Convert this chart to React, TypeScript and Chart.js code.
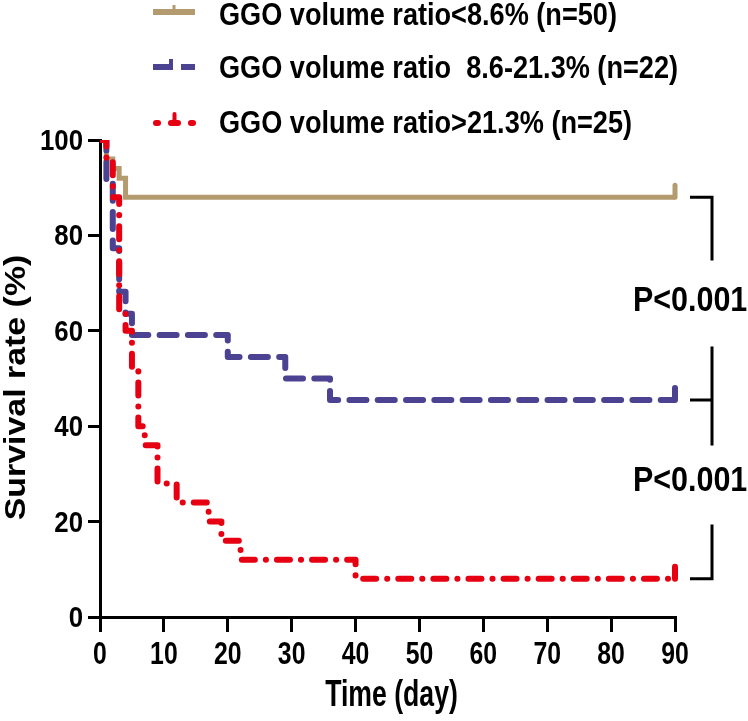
import React, { useEffect, useRef } from "react";
import { Chart, registerables } from "chart.js";

Chart.register(...registerables);

const tanDays = [0, 1, 2, 3, 4, 90];
const tanSurv = [100, 96, 94, 92, 88, 88];
const blueDays = [0, 1, 2, 3, 4, 5, 20, 29, 36, 90];
const blueSurv = [100, 90.9, 77.3, 68.2, 63.6, 59.1, 54.5, 50, 45.5, 45.5];
const redDays = [0, 1, 2, 3, 4, 5, 6, 7, 9, 12, 17, 19, 22, 40, 90];
const redSurv = [100, 96, 88, 64, 60, 52, 40, 36, 28, 24, 20, 16, 12, 8, 8];

const xTicks = [0, 10, 20, 30, 40, 50, 60, 70, 80, 90];
const yTicks = [0, 20, 40, 60, 80, 100];

const legendLabels = [
  "GGO volume ratio<8.6% (n=50)",
  "GGO volume ratio  8.6-21.3% (n=22)",
  "GGO volume ratio>21.3% (n=25)",
];
const pLabels = ["P<0.001", "P<0.001"];
const xTitle = "Time (day)";
const yTitle = "Survival rate (%)";

const TAN = "#b39b6f";
const BLUE = "#4b4291";
const RED = "#e60012";
const FONT = '"Liberation Sans", Arial, sans-serif';

function txt(
  ctx: CanvasRenderingContext2D,
  s: string,
  x: number,
  y: number,
  size: number,
  sx: number,
  align: CanvasTextAlign,
  rot = 0
) {
  ctx.save();
  ctx.font = `bold ${size}px ${FONT}`;
  ctx.fillStyle = "#000";
  ctx.translate(x, y);
  if (rot) ctx.rotate(rot);
  ctx.scale(sx, 1);
  ctx.textAlign = align;
  ctx.textBaseline = "alphabetic";
  ctx.fillText(s, 0, 0);
  ctx.restore();
}

const decorPlugin = {
  id: "decor",
  afterDatasetsDraw(chart: any) {
    const ctx: CanvasRenderingContext2D = chart.ctx;
    chart.data.datasets.forEach((ds: any, i: number) => {
      const meta = chart.getDatasetMeta(i);
      const pts = meta.data;
      const last = pts[pts.length - 1];
      ctx.save();
      ctx.strokeStyle = ds.borderColor;
      ctx.lineWidth = ds.borderWidth;
      ctx.lineCap = "round";
      ctx.beginPath();
      ctx.moveTo(last.x, last.y);
      ctx.lineTo(last.x, last.y - 12);
      ctx.stroke();
      ctx.restore();
    });
  },
  afterDraw(chart: any) {
    const ctx: CanvasRenderingContext2D = chart.ctx;
    const xs = chart.scales.x;
    const ys = chart.scales.y;
    const area = chart.chartArea;

    xTicks.forEach((v) => {
      txt(ctx, String(v), xs.getPixelForValue(v), area.bottom + 47, 31, 0.8, "center");
    });
    yTicks.forEach((v) => {
      txt(ctx, String(v), area.left - 17, ys.getPixelForValue(v) + 10, 30, 0.86, "right");
    });

    txt(ctx, xTitle, (area.left + area.right) / 2 + 4, area.bottom + 89, 36, 0.74, "center");
    txt(ctx, yTitle, 25, (area.top + area.bottom) / 2 + 9, 30, 1.13, "center", -Math.PI / 2);

    const lx0 = 153;
    const lx1 = 195;
    const rows = [
      { y: 12, base: 25 },
      { y: 67, base: 78 },
      { y: 123, base: 133 },
    ];
    ctx.save();
    ctx.lineWidth = 6;
    ctx.strokeStyle = TAN;
    ctx.lineCap = "butt";
    ctx.beginPath();
    ctx.moveTo(lx0, rows[0].y);
    ctx.lineTo(lx1, rows[0].y);
    ctx.stroke();
    ctx.lineWidth = 3;
    ctx.beginPath();
    ctx.moveTo(174, rows[0].y);
    ctx.lineTo(174, rows[0].y - 7);
    ctx.stroke();
    ctx.strokeStyle = BLUE;
    ctx.lineWidth = 6;
    ctx.beginPath();
    ctx.moveTo(lx0, rows[1].y);
    ctx.lineTo(173, rows[1].y);
    ctx.moveTo(181, rows[1].y);
    ctx.lineTo(lx1, rows[1].y);
    ctx.stroke();
    ctx.lineWidth = 4;
    ctx.beginPath();
    ctx.moveTo(171, rows[1].y);
    ctx.lineTo(171, rows[1].y - 8);
    ctx.stroke();
    ctx.strokeStyle = RED;
    ctx.lineWidth = 6;
    ctx.lineCap = "round";
    [157, 192].forEach((cx) => {
      ctx.beginPath();
      ctx.moveTo(cx - 1, rows[2].y);
      ctx.lineTo(cx + 1, rows[2].y);
      ctx.stroke();
    });
    ctx.beginPath();
    ctx.moveTo(171, rows[2].y);
    ctx.lineTo(178, rows[2].y);
    ctx.stroke();
    ctx.lineWidth = 4;
    ctx.beginPath();
    ctx.moveTo(174.5, rows[2].y);
    ctx.lineTo(174.5, rows[2].y - 9);
    ctx.stroke();
    ctx.restore();
    legendLabels.forEach((s, i) => {
      txt(ctx, s, 219, rows[i].base, 31, 0.875, "left");
    });

    const levels = [tanSurv[tanSurv.length - 1], blueSurv[blueSurv.length - 1], redSurv[redSurv.length - 1]].map(
      (v) => ys.getPixelForValue(v)
    );
    const bx0 = area.right + 15;
    const bx1 = area.right + 37;
    ctx.save();
    ctx.strokeStyle = "#000";
    ctx.lineWidth = 3;
    ctx.lineCap = "butt";
    const mid1 = (levels[0] + levels[1]) / 2;
    const mid2 = (levels[1] + levels[2]) / 2;
    ctx.beginPath();
    ctx.moveTo(bx0, levels[0]);
    ctx.lineTo(bx1, levels[0]);
    ctx.lineTo(bx1, mid1 - 38);
    ctx.moveTo(bx1, mid1 + 48);
    ctx.lineTo(bx1, mid2 - 44);
    ctx.moveTo(bx0, levels[1]);
    ctx.lineTo(bx1, levels[1]);
    ctx.moveTo(bx1, mid2 + 35);
    ctx.lineTo(bx1, levels[2]);
    ctx.lineTo(bx0, levels[2]);
    ctx.stroke();
    ctx.restore();
    txt(ctx, pLabels[0], area.right - 42, mid1 + 12, 35, 0.87, "left");
    txt(ctx, pLabels[1], area.right - 42, mid2 + 2, 35, 0.87, "left");
  },
};

export default function App() {
  const ref = useRef<HTMLCanvasElement>(null);
  useEffect(() => {
    document.body.style.margin = "0";
    const canvas = ref.current!;
    const mk = (d: number[], s: number[]) => d.map((x, i) => ({ x, y: s[i] }));
    const chart = new Chart(canvas, {
      type: "line",
      data: {
        datasets: [
          {
            label: legendLabels[2],
            data: mk(redDays, redSurv),
            borderColor: RED,
            borderWidth: 6,
            borderDash: [13, 11, 0.1, 11],
            borderCapStyle: "round",
            borderJoinStyle: "round",
            stepped: true,
            pointRadius: 0,
            fill: false,
          },
          {
            label: legendLabels[1],
            data: mk(blueDays, blueSurv),
            borderColor: BLUE,
            borderWidth: 6,
            borderDash: [17, 11.3],
            borderCapStyle: "round",
            borderJoinStyle: "round",
            stepped: true,
            pointRadius: 0,
            fill: false,
          },
          {
            label: legendLabels[0],
            data: mk(tanDays, tanSurv),
            borderColor: TAN,
            borderWidth: 5,
            stepped: true,
            pointRadius: 0,
            fill: false,
          },
        ],
      },
      options: {
        animation: false,
        responsive: false,
        events: [],
        layout: { padding: { top: 140, left: 88, right: 73, bottom: 89 } },
        plugins: { legend: { display: false }, tooltip: { enabled: false } },
        scales: {
          x: {
            type: "linear",
            min: 0,
            max: 90,
            afterBuildTicks: (s: any) => {
              s.ticks = xTicks.map((v) => ({ value: v }));
            },
            ticks: { display: false },
            grid: { display: true, drawOnChartArea: false, drawTicks: true, tickLength: 15, color: "#000", lineWidth: 3 },
            border: { display: true, color: "#000", width: 3 },
          },
          y: {
            type: "linear",
            min: 0,
            max: 100,
            afterBuildTicks: (s: any) => {
              s.ticks = yTicks.map((v) => ({ value: v }));
            },
            ticks: { display: false },
            grid: { display: true, drawOnChartArea: false, drawTicks: true, tickLength: 12, color: "#000", lineWidth: 3 },
            border: { display: true, color: "#000", width: 3 },
          },
        },
      },
      plugins: [decorPlugin],
    });
    return () => chart.destroy();
  }, []);
  return <canvas ref={ref} width={748} height={721} style={{ display: "block" }} />;
}
